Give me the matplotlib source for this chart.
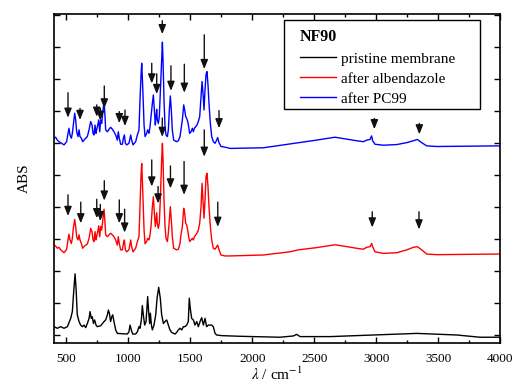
import matplotlib
matplotlib.use("Agg")
import matplotlib.pyplot as plt
from matplotlib.patches import Rectangle
from matplotlib.ticker import MultipleLocator

# ------------------------------------------------------------
# Spectra (wavenumber in cm-1, absorbance offset)
# ------------------------------------------------------------

wn_pristine = [
    400, 427, 454, 481, 508, 535, 548, 561, 570, 578,
    588, 602, 615, 629, 642, 656, 669, 683, 691, 701,
    709, 718, 728, 739, 750, 777, 804, 817, 831, 839,
    847, 857, 866, 874, 884, 898, 911, 992, 1005, 1014,
    1024, 1035, 1059, 1073, 1086, 1094, 1105, 1113, 1121, 1132,
    1143, 1156, 1164, 1172, 1178, 1186, 1194, 1207, 1221, 1232,
    1245, 1258, 1269, 1283, 1296, 1310, 1323, 1336, 1350, 1377,
    1390, 1404, 1417, 1431, 1444, 1457, 1471, 1484, 1492, 1500,
    1511, 1525, 1538, 1552, 1565, 1579, 1592, 1606, 1619, 1632,
    1646, 1673, 1686, 1700, 1713, 1754, 1902, 2224, 2332, 2359,
    2386, 2628, 2978, 3328, 3651, 3839, 4000,
]
abs_pristine = [
    0.26, 0.21, 0.26, 0.21, 0.26, 0.52, 0.73, 1.46, 1.91, 1.46,
    0.63, 0.42, 0.31, 0.26, 0.31, 0.23, 0.36, 0.52, 0.73, 0.52,
    0.57, 0.36, 0.47, 0.31, 0.26, 0.29, 0.42, 0.47, 0.63, 0.78,
    0.68, 0.42, 0.57, 0.63, 0.42, 0.16, 0.05, 0.03, 0.10, 0.31,
    0.16, 0.03, 0.03, 0.10, 0.26, 0.21, 0.47, 0.92, 0.63, 0.31,
    0.42, 1.20, 0.73, 0.36, 0.68, 0.31, 0.16, 0.31, 0.63, 1.15,
    1.49, 1.15, 0.63, 0.36, 0.42, 0.47, 0.31, 0.16, 0.08, 0.03,
    0.08, 0.16, 0.21, 0.16, 0.26, 0.26, 0.31, 0.42, 1.15, 0.83,
    0.52, 0.47, 0.31, 0.42, 0.26, 0.42, 0.54, 0.31, 0.52, 0.26,
    0.31, 0.31, 0.26, 0.05, 0.00, -0.02, -0.04, -0.07, -0.03, 0.02,
    -0.05, -0.05, 0.00, 0.05, 0.00, -0.07, -0.07,
]

# both treated membranes were read at the same wavenumbers
wn_treated = [
    400, 413, 427, 440, 454, 481, 502, 513, 521, 529,
    540, 548, 556, 567, 575, 583, 594, 602, 610, 621,
    631, 642, 656, 669, 683, 696, 707, 715, 723, 731,
    739, 744, 753, 761, 769, 777, 785, 796, 804, 812,
    817, 831, 844, 857, 871, 884, 898, 911, 919, 927,
    938, 952, 960, 968, 976, 987, 1005, 1019, 1027, 1038,
    1059, 1073, 1086, 1094, 1102, 1108, 1116, 1127,
    1135, 1148, 1156, 1167, 1175, 1183, 1194, 1202, 1210, 1218,
    1223, 1229, 1234, 1242, 1250, 1258, 1269, 1275, 1280, 1288,
    1296, 1304, 1315, 1323, 1331, 1339, 1347, 1355, 1366, 1390,
    1404, 1417, 1425, 1436, 1447, 1455, 1463, 1471, 1479, 1487,
    1495, 1506, 1517, 1525, 1533, 1544, 1554, 1565, 1576, 1587,
    1595, 1603, 1611, 1619, 1627, 1635, 1643, 1651, 1662, 1673,
    1686, 1700, 1713, 1721, 1732, 1748, 1780,
    1821, 2090, 2305, 2372, 2520, 2668, 2763, 2843, 2897, 2924,
    2951, 2964, 2972, 2991, 3058, 3166, 3247, 3301, 3333, 3368,
    3408, 3489, 4000,
]
abs_albendazole = [
    2.81, 2.78, 2.71, 2.74, 2.66, 2.57, 2.68, 2.97, 3.15, 2.97,
    2.86, 3.02, 3.33, 3.61, 3.39, 3.07, 2.97, 3.13, 2.97, 2.86,
    2.71, 2.76, 2.81, 2.84, 3.02, 3.33, 3.23, 2.97, 2.92, 3.23,
    2.97, 3.07, 3.23, 3.41, 3.07, 3.39, 3.28, 3.65, 3.93, 3.49,
    3.13, 3.07, 3.13, 3.18, 3.13, 3.07, 2.97, 2.81, 3.07, 2.86,
    2.66, 2.66, 2.86, 2.97, 2.66, 2.60, 2.66, 2.97, 2.76, 2.60,
    2.71, 2.92, 3.07, 4.01, 4.95, 5.36, 4.53, 3.28,
    2.85, 2.92, 3.02, 2.97, 3.13, 3.39, 4.01, 4.32, 3.80, 3.39,
    3.59, 3.82, 3.49, 3.33, 3.49, 4.22, 5.47, 5.99, 5.47, 4.22,
    3.39, 3.02, 2.92, 3.18, 3.59, 4.01, 3.59, 3.07, 2.71, 2.66,
    2.68, 2.86, 3.13, 3.39, 3.96, 3.80, 3.49, 3.44, 3.28, 3.07,
    2.92, 2.97, 3.02, 2.97, 3.07, 3.13, 3.18, 3.28, 3.49, 4.01,
    4.74, 4.22, 3.65, 4.22, 4.95, 5.05, 4.64, 4.01, 3.39, 2.97,
    2.71, 2.68, 2.76, 2.81, 2.66, 2.50, 2.47,
    2.47, 2.50, 2.60, 2.66, 2.73, 2.82, 2.76, 2.71, 2.68, 2.74,
    2.76, 2.86, 2.76, 2.60, 2.55, 2.57, 2.66, 2.74, 2.76, 2.66,
    2.53, 2.51, 2.53,
]
abs_pc99 = [
    6.15, 6.18, 6.09, 6.04, 6.01, 5.94, 6.04, 6.30, 6.46, 6.25,
    6.15, 6.30, 6.56, 6.93, 6.72, 6.35, 6.20, 6.41, 6.20, 6.15,
    6.04, 6.09, 6.15, 6.20, 6.41, 6.67, 6.56, 6.30, 6.25, 6.56,
    6.30, 6.41, 6.56, 6.72, 6.35, 6.72, 6.61, 7.03, 7.29, 6.82,
    6.41, 6.35, 6.43, 6.49, 6.43, 6.35, 6.25, 6.09, 6.35, 6.15,
    5.96, 5.96, 6.15, 6.25, 5.99, 5.94, 5.99, 6.25, 6.09, 5.94,
    6.04, 6.25, 6.41, 7.34, 8.07, 8.49, 7.76, 6.56,
    6.20, 6.30, 6.41, 6.30, 6.51, 6.82, 7.24, 7.50, 7.03, 6.56,
    6.82, 7.05, 6.72, 6.61, 6.82, 7.55, 8.59, 9.15, 8.59, 7.34,
    6.51, 6.25, 6.20, 6.41, 7.03, 7.47, 7.03, 6.41, 6.09, 6.04,
    6.07, 6.20, 6.41, 6.72, 7.19, 7.03, 6.82, 6.77, 6.67, 6.51,
    6.30, 6.35, 6.46, 6.35, 6.46, 6.51, 6.56, 6.67, 6.82, 7.45,
    7.92, 7.55, 7.03, 7.66, 8.13, 8.23, 7.81, 7.24, 6.61, 6.20,
    6.04, 5.99, 6.09, 6.17, 6.01, 5.89, 5.87,
    5.83, 5.85, 5.97, 6.01, 6.09, 6.18, 6.12, 6.07, 6.04, 6.09,
    6.11, 6.22, 6.07, 5.96, 5.93, 5.95, 6.01, 6.07, 6.11, 6.01,
    5.91, 5.89, 5.91,
]

# marked bands: wavenumber, arrow start level, arrow tip level
arrow_wn_pc99 = [513, 610, 745, 774, 806, 927, 973, 1189, 1229, 1274,
                 1344, 1452, 1613, 1732, 2986, 3349]
arrow_tail_pc99 = [7.57, 7.08, 7.19, 7.08, 7.78, 6.98, 7.03, 8.49, 8.16, 9.82,
                   8.41, 8.46, 9.38, 7.01, 6.77, 6.61]
arrow_tip_pc99 = [6.79, 6.72, 6.82, 6.70, 7.08, 6.62, 6.53, 7.86, 7.53, 9.40,
                  7.63, 7.57, 8.31, 6.46, 6.43, 6.27]

arrow_wn_alb = [513, 616, 745, 774, 806, 927, 970, 1189, 1240, 1274,
                1340, 1450, 1613, 1722, 2969, 3346]
arrow_tail_alb = [4.38, 4.15, 4.24, 4.08, 4.82, 4.22, 3.93, 5.47, 4.64, 6.78,
                  5.28, 5.42, 6.41, 4.15, 3.85, 3.85]
arrow_tip_alb = [3.72, 3.49, 3.65, 3.56, 4.20, 3.49, 3.20, 4.64, 4.11, 6.19,
                 4.58, 4.38, 5.57, 3.38, 3.36, 3.30]

labels = ["pristine membrane", "after albendazole", "after PC99"]

# ------------------------------------------------------------
# Plot
# ------------------------------------------------------------
plt.rcParams["font.family"] = ["Liberation Serif", "DejaVu Serif"]
plt.rcParams["mathtext.fontset"] = "stix"

fig = plt.figure(figsize=(5.13, 3.90), dpi=100)
ax = fig.add_axes([54 / 513, 47 / 390, 446 / 513, 329 / 390])

ax.plot(wn_pristine, abs_pristine, color="black", lw=1.0, label=labels[0])
ax.plot(wn_treated, abs_albendazole, color="#ff0000", lw=1.0, label=labels[1])
ax.plot(wn_treated, abs_pc99, color="#0000ff", lw=1.0, label=labels[2])

arrow_props = dict(arrowstyle="-|>,head_length=0.55,head_width=0.22",
                   color="#111111", lw=1.0, mutation_scale=10,
                   shrinkA=0, shrinkB=0)
for wn, tail, tip in zip(arrow_wn_pc99, arrow_tail_pc99, arrow_tip_pc99):
    ax.annotate("", xy=(wn, tip), xytext=(wn, tail), arrowprops=arrow_props)
for wn, tail, tip in zip(arrow_wn_alb, arrow_tail_alb, arrow_tip_alb):
    ax.annotate("", xy=(wn, tip), xytext=(wn, tail), arrowprops=arrow_props)

ax.set_xlim(400, 4000)
ax.set_ylim(-0.25, 10.03)
ax.xaxis.set_major_locator(MultipleLocator(500))
ax.xaxis.set_minor_locator(MultipleLocator(250))
ax.yaxis.set_major_locator(MultipleLocator(1))
ax.set_yticklabels([])
ax.tick_params(which="both", direction="in", top=True, right=True,
               labelsize=9.5, width=1.0, pad=7)
ax.tick_params(which="major", length=4)
ax.tick_params(which="minor", length=2.5)
for sp in ax.spines.values():
    sp.set_linewidth(1.2)

ax.set_xlabel(r"$\lambda$ / cm$^{-1}$", fontsize=11, labelpad=1)
ax.set_ylabel("ABS", fontsize=11, labelpad=10)

# legend box drawn separately: wider side padding than matplotlib's frame allows
ax.add_patch(Rectangle((0.5157, 0.711), 0.4395, 0.271, transform=ax.transAxes,
                       facecolor="white", edgecolor="black", lw=1.0, zorder=4))
leg = ax.legend(loc="upper left", bbox_to_anchor=(0.551, 0.953),
                borderaxespad=0, borderpad=0, frameon=False, fontsize=11,
                title="NF90", title_fontproperties={"weight": "bold", "size": 11.5},
                alignment="left", handlelength=2.35, labelspacing=0.42,
                handletextpad=0.35)
leg.set_zorder(5)

fig.savefig("out.png", dpi=100)
